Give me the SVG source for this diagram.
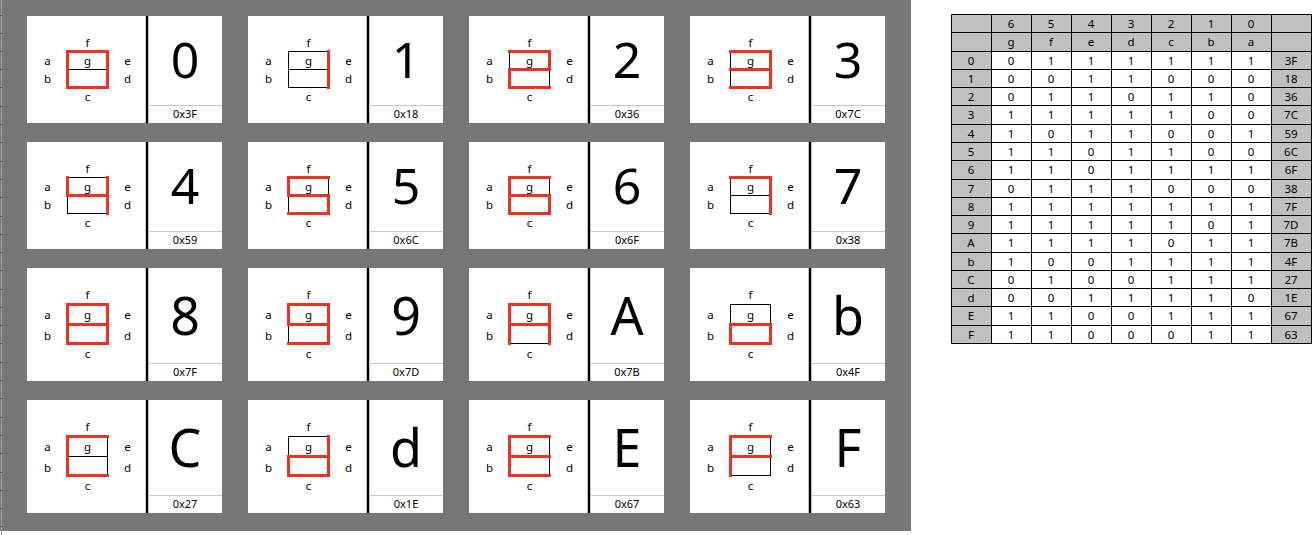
<svg xmlns="http://www.w3.org/2000/svg" width="1316" height="535" viewBox="0 0 1316 535">
<style>
.bg{fill:#777777}
.card{fill:#ffffff}
.div{stroke:#000;stroke-width:2.5}
.sep{stroke:#c8c8c8;stroke-width:1}
text{font-family:"Noto Sans","Open Sans","DejaVu Sans",sans-serif;fill:#000;text-anchor:middle}
.lbl{font-size:11.5px}
.hex{font-size:11px}
.bigA{font-size:50px}
.bigB{font-size:52px}
.off{fill:none;stroke:#000;stroke-width:1}
.on{fill:none;stroke:#ea3323;stroke-width:3;stroke-linecap:square;stroke-linejoin:miter}
.tg{fill:#c0c0c0}
.grid{fill:none;stroke:#000;stroke-width:1}
.tt{font-size:11.5px}
</style>
<rect width="1316" height="535" fill="#ffffff"/>
<rect class="bg" x="0" y="0" width="911" height="531"/>
<line x1="1.5" y1="0" x2="1.5" y2="535" stroke="#a4a4a4" stroke-width="1"/>
<path d="M0,15.5h3M0,33.5h3M0,51.5h3M0,69.5h3M0,87.5h3M0,106.5h3M0,124.5h3M0,142.5h3M0,161.5h3M0,179.5h3M0,197.5h3M0,216.5h3M0,234.5h3M0,252.5h3M0,270.5h3M0,289.5h3M0,307.5h3M0,325.5h3M0,343.5h3M0,362.5h3M0,380.5h3M0,398.5h3M0,417.5h3M0,435.5h3M0,453.5h3M0,472.5h3M0,490.5h3M0,508.5h3M0,526.5h3" stroke="#5c5c5c" stroke-width="1"/>

<g id="card-0" transform="translate(27,16)">
<rect class="card" width="195" height="107"/>
<line class="div" x1="120" y1="0" x2="120" y2="107"/>
<line class="sep" x1="121" y1="89.5" x2="195" y2="89.5"/>
<text class="lbl" x="60.5" y="30.7">f</text><text class="lbl" x="20.5" y="49">a</text><text class="lbl" x="60.5" y="49">g</text><text class="lbl" x="100.5" y="49">e</text><text class="lbl" x="20.5" y="67.3">b</text><text class="lbl" x="100.5" y="67.3">d</text><text class="lbl" x="60.5" y="84.7">c</text>
<rect class="off" x="40.5" y="35.5" width="40" height="36"/><line class="off" x1="40.5" y1="53.5" x2="80.5" y2="53.5"/>
<path class="on" d="M40.5,35.5H80.5V71.5H40.5Z"/>
<text class="bigA" x="158" y="62">0</text>
<text class="hex" x="158" y="102.3">0x3F</text>
</g>

<g id="card-1" transform="translate(248,16)">
<rect class="card" width="195" height="107"/>
<line class="div" x1="120" y1="0" x2="120" y2="107"/>
<line class="sep" x1="121" y1="89.5" x2="195" y2="89.5"/>
<text class="lbl" x="60.5" y="30.7">f</text><text class="lbl" x="20.5" y="49">a</text><text class="lbl" x="60.5" y="49">g</text><text class="lbl" x="100.5" y="49">e</text><text class="lbl" x="20.5" y="67.3">b</text><text class="lbl" x="100.5" y="67.3">d</text><text class="lbl" x="60.5" y="84.7">c</text>
<rect class="off" x="40.5" y="35.5" width="40" height="36"/><line class="off" x1="40.5" y1="53.5" x2="80.5" y2="53.5"/>
<path class="on" d="M80.5,35.5V71.5"/>
<text class="bigA" x="158" y="62">1</text>
<text class="hex" x="158" y="102.3">0x18</text>
</g>

<g id="card-2" transform="translate(469,16)">
<rect class="card" width="195" height="107"/>
<line class="div" x1="120" y1="0" x2="120" y2="107"/>
<line class="sep" x1="121" y1="89.5" x2="195" y2="89.5"/>
<text class="lbl" x="60.5" y="30.7">f</text><text class="lbl" x="20.5" y="49">a</text><text class="lbl" x="60.5" y="49">g</text><text class="lbl" x="100.5" y="49">e</text><text class="lbl" x="20.5" y="67.3">b</text><text class="lbl" x="100.5" y="67.3">d</text><text class="lbl" x="60.5" y="84.7">c</text>
<rect class="off" x="40.5" y="35.5" width="40" height="36"/><line class="off" x1="40.5" y1="53.5" x2="80.5" y2="53.5"/>
<path class="on" d="M40.5,35.5H80.5V53.5H40.5V71.5H80.5"/>
<text class="bigA" x="158" y="62">2</text>
<text class="hex" x="158" y="102.3">0x36</text>
</g>

<g id="card-3" transform="translate(690,16)">
<rect class="card" width="195" height="107"/>
<line class="div" x1="120" y1="0" x2="120" y2="107"/>
<line class="sep" x1="121" y1="89.5" x2="195" y2="89.5"/>
<text class="lbl" x="60.5" y="30.7">f</text><text class="lbl" x="20.5" y="49">a</text><text class="lbl" x="60.5" y="49">g</text><text class="lbl" x="100.5" y="49">e</text><text class="lbl" x="20.5" y="67.3">b</text><text class="lbl" x="100.5" y="67.3">d</text><text class="lbl" x="60.5" y="84.7">c</text>
<rect class="off" x="40.5" y="35.5" width="40" height="36"/><line class="off" x1="40.5" y1="53.5" x2="80.5" y2="53.5"/>
<path class="on" d="M40.5,35.5H80.5V71.5H40.5M40.5,53.5H80.5"/>
<text class="bigA" x="158" y="62">3</text>
<text class="hex" x="158" y="102.3">0x7C</text>
</g>

<g id="card-4" transform="translate(27,142)">
<rect class="card" width="195" height="107"/>
<line class="div" x1="120" y1="0" x2="120" y2="107"/>
<line class="sep" x1="121" y1="89.5" x2="195" y2="89.5"/>
<text class="lbl" x="60.5" y="30.7">f</text><text class="lbl" x="20.5" y="49">a</text><text class="lbl" x="60.5" y="49">g</text><text class="lbl" x="100.5" y="49">e</text><text class="lbl" x="20.5" y="67.3">b</text><text class="lbl" x="100.5" y="67.3">d</text><text class="lbl" x="60.5" y="84.7">c</text>
<rect class="off" x="40.5" y="35.5" width="40" height="36"/><line class="off" x1="40.5" y1="53.5" x2="80.5" y2="53.5"/>
<path class="on" d="M40.5,35.5V53.5H80.5M80.5,35.5V71.5"/>
<text class="bigA" x="158" y="62">4</text>
<text class="hex" x="158" y="102.3">0x59</text>
</g>

<g id="card-5" transform="translate(248,142)">
<rect class="card" width="195" height="107"/>
<line class="div" x1="120" y1="0" x2="120" y2="107"/>
<line class="sep" x1="121" y1="89.5" x2="195" y2="89.5"/>
<text class="lbl" x="60.5" y="30.7">f</text><text class="lbl" x="20.5" y="49">a</text><text class="lbl" x="60.5" y="49">g</text><text class="lbl" x="100.5" y="49">e</text><text class="lbl" x="20.5" y="67.3">b</text><text class="lbl" x="100.5" y="67.3">d</text><text class="lbl" x="60.5" y="84.7">c</text>
<rect class="off" x="40.5" y="35.5" width="40" height="36"/><line class="off" x1="40.5" y1="53.5" x2="80.5" y2="53.5"/>
<path class="on" d="M80.5,35.5H40.5V53.5H80.5V71.5H40.5"/>
<text class="bigA" x="158" y="62">5</text>
<text class="hex" x="158" y="102.3">0x6C</text>
</g>

<g id="card-6" transform="translate(469,142)">
<rect class="card" width="195" height="107"/>
<line class="div" x1="120" y1="0" x2="120" y2="107"/>
<line class="sep" x1="121" y1="89.5" x2="195" y2="89.5"/>
<text class="lbl" x="60.5" y="30.7">f</text><text class="lbl" x="20.5" y="49">a</text><text class="lbl" x="60.5" y="49">g</text><text class="lbl" x="100.5" y="49">e</text><text class="lbl" x="20.5" y="67.3">b</text><text class="lbl" x="100.5" y="67.3">d</text><text class="lbl" x="60.5" y="84.7">c</text>
<rect class="off" x="40.5" y="35.5" width="40" height="36"/><line class="off" x1="40.5" y1="53.5" x2="80.5" y2="53.5"/>
<path class="on" d="M80.5,35.5H40.5V71.5H80.5V53.5H40.5"/>
<text class="bigA" x="158" y="62">6</text>
<text class="hex" x="158" y="102.3">0x6F</text>
</g>

<g id="card-7" transform="translate(690,142)">
<rect class="card" width="195" height="107"/>
<line class="div" x1="120" y1="0" x2="120" y2="107"/>
<line class="sep" x1="121" y1="89.5" x2="195" y2="89.5"/>
<text class="lbl" x="60.5" y="30.7">f</text><text class="lbl" x="20.5" y="49">a</text><text class="lbl" x="60.5" y="49">g</text><text class="lbl" x="100.5" y="49">e</text><text class="lbl" x="20.5" y="67.3">b</text><text class="lbl" x="100.5" y="67.3">d</text><text class="lbl" x="60.5" y="84.7">c</text>
<rect class="off" x="40.5" y="35.5" width="40" height="36"/><line class="off" x1="40.5" y1="53.5" x2="80.5" y2="53.5"/>
<path class="on" d="M40.5,35.5H80.5V71.5"/>
<text class="bigA" x="158" y="62">7</text>
<text class="hex" x="158" y="102.3">0x38</text>
</g>

<g id="card-8" transform="translate(27,268)">
<rect class="card" width="195" height="113"/>
<line class="div" x1="120" y1="0" x2="120" y2="113"/>
<line class="sep" x1="121" y1="95.5" x2="195" y2="95.5"/>
<text class="lbl" x="60.5" y="30.5">f</text><text class="lbl" x="20.5" y="51.3">a</text><text class="lbl" x="60.5" y="51.3">g</text><text class="lbl" x="100.5" y="51.3">e</text><text class="lbl" x="20.5" y="72">b</text><text class="lbl" x="100.5" y="72">d</text><text class="lbl" x="60.5" y="90.3">c</text>
<rect class="off" x="40.5" y="36.5" width="40" height="39"/><line class="off" x1="40.5" y1="56.5" x2="80.5" y2="56.5"/>
<path class="on" d="M40.5,36.5H80.5V75.5H40.5ZM40.5,56.5H80.5"/>
<text class="bigB" x="158" y="66.5">8</text>
<text class="hex" x="158" y="108.3">0x7F</text>
</g>

<g id="card-9" transform="translate(248,268)">
<rect class="card" width="195" height="113"/>
<line class="div" x1="120" y1="0" x2="120" y2="113"/>
<line class="sep" x1="121" y1="95.5" x2="195" y2="95.5"/>
<text class="lbl" x="60.5" y="30.5">f</text><text class="lbl" x="20.5" y="51.3">a</text><text class="lbl" x="60.5" y="51.3">g</text><text class="lbl" x="100.5" y="51.3">e</text><text class="lbl" x="20.5" y="72">b</text><text class="lbl" x="100.5" y="72">d</text><text class="lbl" x="60.5" y="90.3">c</text>
<rect class="off" x="40.5" y="36.5" width="40" height="39"/><line class="off" x1="40.5" y1="56.5" x2="80.5" y2="56.5"/>
<path class="on" d="M40.5,56.5V36.5H80.5V75.5H40.5M40.5,56.5H80.5"/>
<text class="bigB" x="158" y="66.5">9</text>
<text class="hex" x="158" y="108.3">0x7D</text>
</g>

<g id="card-A" transform="translate(469,268)">
<rect class="card" width="195" height="113"/>
<line class="div" x1="120" y1="0" x2="120" y2="113"/>
<line class="sep" x1="121" y1="95.5" x2="195" y2="95.5"/>
<text class="lbl" x="60.5" y="30.5">f</text><text class="lbl" x="20.5" y="51.3">a</text><text class="lbl" x="60.5" y="51.3">g</text><text class="lbl" x="100.5" y="51.3">e</text><text class="lbl" x="20.5" y="72">b</text><text class="lbl" x="100.5" y="72">d</text><text class="lbl" x="60.5" y="90.3">c</text>
<rect class="off" x="40.5" y="36.5" width="40" height="39"/><line class="off" x1="40.5" y1="56.5" x2="80.5" y2="56.5"/>
<path class="on" d="M40.5,75.5V36.5H80.5V75.5M40.5,56.5H80.5"/>
<text class="bigB" x="158" y="66.5">A</text>
<text class="hex" x="158" y="108.3">0x7B</text>
</g>

<g id="card-b" transform="translate(690,268)">
<rect class="card" width="195" height="113"/>
<line class="div" x1="120" y1="0" x2="120" y2="113"/>
<line class="sep" x1="121" y1="95.5" x2="195" y2="95.5"/>
<text class="lbl" x="60.5" y="30.5">f</text><text class="lbl" x="20.5" y="51.3">a</text><text class="lbl" x="60.5" y="51.3">g</text><text class="lbl" x="100.5" y="51.3">e</text><text class="lbl" x="20.5" y="72">b</text><text class="lbl" x="100.5" y="72">d</text><text class="lbl" x="60.5" y="90.3">c</text>
<rect class="off" x="40.5" y="36.5" width="40" height="39"/><line class="off" x1="40.5" y1="56.5" x2="80.5" y2="56.5"/>
<path class="on" d="M40.5,56.5H80.5V75.5H40.5Z"/>
<text class="bigB" x="158" y="66.5">b</text>
<text class="hex" x="158" y="108.3">0x4F</text>
</g>

<g id="card-C" transform="translate(27,400)">
<rect class="card" width="195" height="113"/>
<line class="div" x1="120" y1="0" x2="120" y2="113"/>
<line class="sep" x1="121" y1="95.5" x2="195" y2="95.5"/>
<text class="lbl" x="60.5" y="30.5">f</text><text class="lbl" x="20.5" y="51.3">a</text><text class="lbl" x="60.5" y="51.3">g</text><text class="lbl" x="100.5" y="51.3">e</text><text class="lbl" x="20.5" y="72">b</text><text class="lbl" x="100.5" y="72">d</text><text class="lbl" x="60.5" y="90.3">c</text>
<rect class="off" x="40.5" y="36.5" width="40" height="39"/><line class="off" x1="40.5" y1="56.5" x2="80.5" y2="56.5"/>
<path class="on" d="M80.5,36.5H40.5V75.5H80.5"/>
<text class="bigB" x="158" y="66.5">C</text>
<text class="hex" x="158" y="108.3">0x27</text>
</g>

<g id="card-d" transform="translate(248,400)">
<rect class="card" width="195" height="113"/>
<line class="div" x1="120" y1="0" x2="120" y2="113"/>
<line class="sep" x1="121" y1="95.5" x2="195" y2="95.5"/>
<text class="lbl" x="60.5" y="30.5">f</text><text class="lbl" x="20.5" y="51.3">a</text><text class="lbl" x="60.5" y="51.3">g</text><text class="lbl" x="100.5" y="51.3">e</text><text class="lbl" x="20.5" y="72">b</text><text class="lbl" x="100.5" y="72">d</text><text class="lbl" x="60.5" y="90.3">c</text>
<rect class="off" x="40.5" y="36.5" width="40" height="39"/><line class="off" x1="40.5" y1="56.5" x2="80.5" y2="56.5"/>
<path class="on" d="M80.5,36.5V75.5H40.5V56.5H80.5"/>
<text class="bigB" x="158" y="66.5">d</text>
<text class="hex" x="158" y="108.3">0x1E</text>
</g>

<g id="card-E" transform="translate(469,400)">
<rect class="card" width="195" height="113"/>
<line class="div" x1="120" y1="0" x2="120" y2="113"/>
<line class="sep" x1="121" y1="95.5" x2="195" y2="95.5"/>
<text class="lbl" x="60.5" y="30.5">f</text><text class="lbl" x="20.5" y="51.3">a</text><text class="lbl" x="60.5" y="51.3">g</text><text class="lbl" x="100.5" y="51.3">e</text><text class="lbl" x="20.5" y="72">b</text><text class="lbl" x="100.5" y="72">d</text><text class="lbl" x="60.5" y="90.3">c</text>
<rect class="off" x="40.5" y="36.5" width="40" height="39"/><line class="off" x1="40.5" y1="56.5" x2="80.5" y2="56.5"/>
<path class="on" d="M80.5,36.5H40.5V75.5H80.5M40.5,56.5H80.5"/>
<text class="bigB" x="158" y="66.5">E</text>
<text class="hex" x="158" y="108.3">0x67</text>
</g>

<g id="card-F" transform="translate(690,400)">
<rect class="card" width="195" height="113"/>
<line class="div" x1="120" y1="0" x2="120" y2="113"/>
<line class="sep" x1="121" y1="95.5" x2="195" y2="95.5"/>
<text class="lbl" x="60.5" y="30.5">f</text><text class="lbl" x="20.5" y="51.3">a</text><text class="lbl" x="60.5" y="51.3">g</text><text class="lbl" x="100.5" y="51.3">e</text><text class="lbl" x="20.5" y="72">b</text><text class="lbl" x="100.5" y="72">d</text><text class="lbl" x="60.5" y="90.3">c</text>
<rect class="off" x="40.5" y="36.5" width="40" height="39"/><line class="off" x1="40.5" y1="56.5" x2="80.5" y2="56.5"/>
<path class="on" d="M80.5,36.5H40.5V75.5M40.5,56.5H80.5"/>
<text class="bigB" x="158" y="66.5">F</text>
<text class="hex" x="158" y="108.3">0x63</text>
</g>

<g id="table">
<rect class="tg" x="951.5" y="14.5" width="360" height="37"/>
<rect class="tg" x="951.5" y="51.5" width="40" height="292"/>
<rect class="tg" x="1271.5" y="51.5" width="40" height="292"/>
<path class="grid" d="M951.5,14.5V343.5M991.5,14.5V343.5M1031.5,14.5V343.5M1071.5,14.5V343.5M1111.5,14.5V343.5M1151.5,14.5V343.5M1191.5,14.5V343.5M1231.5,14.5V343.5M1271.5,14.5V343.5M1311.5,14.5V343.5M951.5,14.5H1311.5M951.5,32.5H1311.5M951.5,51.5H1311.5M951.5,69.5H1311.5M951.5,87.5H1311.5M951.5,105.5H1311.5M951.5,124.5H1311.5M951.5,142.5H1311.5M951.5,160.5H1311.5M951.5,179.5H1311.5M951.5,197.5H1311.5M951.5,215.5H1311.5M951.5,233.5H1311.5M951.5,252.5H1311.5M951.5,270.5H1311.5M951.5,288.5H1311.5M951.5,306.5H1311.5M951.5,325.5H1311.5M951.5,343.5H1311.5"/>
<text class="tt" y="27.5"><tspan x="1011">6</tspan><tspan x="1051">5</tspan><tspan x="1091">4</tspan><tspan x="1131">3</tspan><tspan x="1171">2</tspan><tspan x="1211">1</tspan><tspan x="1251">0</tspan></text>
<text class="tt" y="46"><tspan x="1011">g</tspan><tspan x="1051">f</tspan><tspan x="1091">e</tspan><tspan x="1131">d</tspan><tspan x="1171">c</tspan><tspan x="1211">b</tspan><tspan x="1251">a</tspan></text>
<text class="tt" y="64.5"><tspan x="971">0</tspan><tspan x="1011">0</tspan><tspan x="1051">1</tspan><tspan x="1091">1</tspan><tspan x="1131">1</tspan><tspan x="1171">1</tspan><tspan x="1211">1</tspan><tspan x="1251">1</tspan><tspan x="1291">3F</tspan></text>
<text class="tt" y="82.5"><tspan x="971">1</tspan><tspan x="1011">0</tspan><tspan x="1051">0</tspan><tspan x="1091">1</tspan><tspan x="1131">1</tspan><tspan x="1171">0</tspan><tspan x="1211">0</tspan><tspan x="1251">0</tspan><tspan x="1291">18</tspan></text>
<text class="tt" y="100.5"><tspan x="971">2</tspan><tspan x="1011">0</tspan><tspan x="1051">1</tspan><tspan x="1091">1</tspan><tspan x="1131">0</tspan><tspan x="1171">1</tspan><tspan x="1211">1</tspan><tspan x="1251">0</tspan><tspan x="1291">36</tspan></text>
<text class="tt" y="119"><tspan x="971">3</tspan><tspan x="1011">1</tspan><tspan x="1051">1</tspan><tspan x="1091">1</tspan><tspan x="1131">1</tspan><tspan x="1171">1</tspan><tspan x="1211">0</tspan><tspan x="1251">0</tspan><tspan x="1291">7C</tspan></text>
<text class="tt" y="137.5"><tspan x="971">4</tspan><tspan x="1011">1</tspan><tspan x="1051">0</tspan><tspan x="1091">1</tspan><tspan x="1131">1</tspan><tspan x="1171">0</tspan><tspan x="1211">0</tspan><tspan x="1251">1</tspan><tspan x="1291">59</tspan></text>
<text class="tt" y="155.5"><tspan x="971">5</tspan><tspan x="1011">1</tspan><tspan x="1051">1</tspan><tspan x="1091">0</tspan><tspan x="1131">1</tspan><tspan x="1171">1</tspan><tspan x="1211">0</tspan><tspan x="1251">0</tspan><tspan x="1291">6C</tspan></text>
<text class="tt" y="174"><tspan x="971">6</tspan><tspan x="1011">1</tspan><tspan x="1051">1</tspan><tspan x="1091">0</tspan><tspan x="1131">1</tspan><tspan x="1171">1</tspan><tspan x="1211">1</tspan><tspan x="1251">1</tspan><tspan x="1291">6F</tspan></text>
<text class="tt" y="192.5"><tspan x="971">7</tspan><tspan x="1011">0</tspan><tspan x="1051">1</tspan><tspan x="1091">1</tspan><tspan x="1131">1</tspan><tspan x="1171">0</tspan><tspan x="1211">0</tspan><tspan x="1251">0</tspan><tspan x="1291">38</tspan></text>
<text class="tt" y="210.5"><tspan x="971">8</tspan><tspan x="1011">1</tspan><tspan x="1051">1</tspan><tspan x="1091">1</tspan><tspan x="1131">1</tspan><tspan x="1171">1</tspan><tspan x="1211">1</tspan><tspan x="1251">1</tspan><tspan x="1291">7F</tspan></text>
<text class="tt" y="228.5"><tspan x="971">9</tspan><tspan x="1011">1</tspan><tspan x="1051">1</tspan><tspan x="1091">1</tspan><tspan x="1131">1</tspan><tspan x="1171">1</tspan><tspan x="1211">0</tspan><tspan x="1251">1</tspan><tspan x="1291">7D</tspan></text>
<text class="tt" y="247"><tspan x="971">A</tspan><tspan x="1011">1</tspan><tspan x="1051">1</tspan><tspan x="1091">1</tspan><tspan x="1131">1</tspan><tspan x="1171">0</tspan><tspan x="1211">1</tspan><tspan x="1251">1</tspan><tspan x="1291">7B</tspan></text>
<text class="tt" y="265.5"><tspan x="971">b</tspan><tspan x="1011">1</tspan><tspan x="1051">0</tspan><tspan x="1091">0</tspan><tspan x="1131">1</tspan><tspan x="1171">1</tspan><tspan x="1211">1</tspan><tspan x="1251">1</tspan><tspan x="1291">4F</tspan></text>
<text class="tt" y="283.5"><tspan x="971">C</tspan><tspan x="1011">0</tspan><tspan x="1051">1</tspan><tspan x="1091">0</tspan><tspan x="1131">0</tspan><tspan x="1171">1</tspan><tspan x="1211">1</tspan><tspan x="1251">1</tspan><tspan x="1291">27</tspan></text>
<text class="tt" y="301.5"><tspan x="971">d</tspan><tspan x="1011">0</tspan><tspan x="1051">0</tspan><tspan x="1091">1</tspan><tspan x="1131">1</tspan><tspan x="1171">1</tspan><tspan x="1211">1</tspan><tspan x="1251">0</tspan><tspan x="1291">1E</tspan></text>
<text class="tt" y="320"><tspan x="971">E</tspan><tspan x="1011">1</tspan><tspan x="1051">1</tspan><tspan x="1091">0</tspan><tspan x="1131">0</tspan><tspan x="1171">1</tspan><tspan x="1211">1</tspan><tspan x="1251">1</tspan><tspan x="1291">67</tspan></text>
<text class="tt" y="338.5"><tspan x="971">F</tspan><tspan x="1011">1</tspan><tspan x="1051">1</tspan><tspan x="1091">0</tspan><tspan x="1131">0</tspan><tspan x="1171">0</tspan><tspan x="1211">1</tspan><tspan x="1251">1</tspan><tspan x="1291">63</tspan></text>
</g>
</svg>
